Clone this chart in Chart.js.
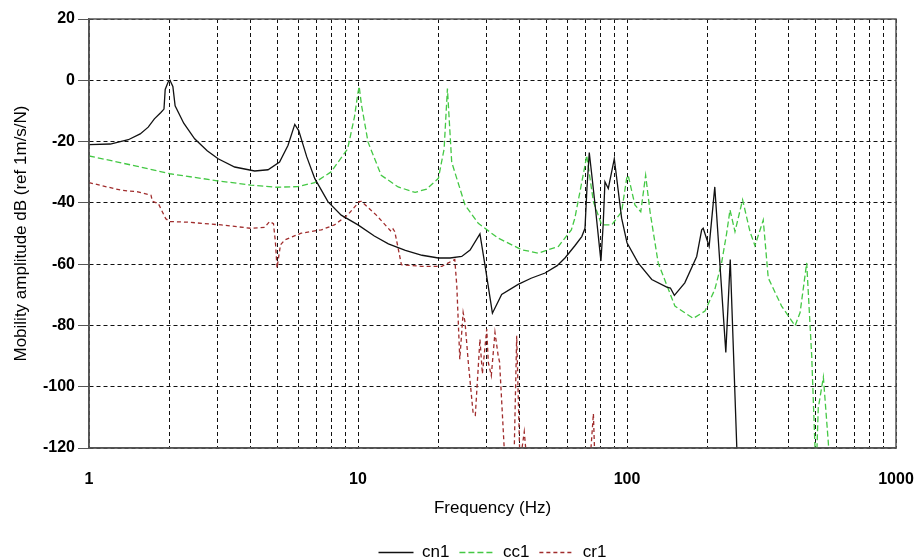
<!DOCTYPE html>
<html>
<head>
<meta charset="utf-8">
<title>Mobility amplitude</title>
<script src="https://cdn.jsdelivr.net/npm/chart.js@4.4.1/dist/chart.umd.min.js"></script>
<style>
  html, body { margin: 0; padding: 0; background: #fff; }
  #wrap { width: 917px; height: 559px; }
</style>
</head>
<body>
<div id="wrap"><canvas id="fig"></canvas></div>
<script>
// cn1 - solid black
const cn1Freq = [1.00, 1.20, 1.40, 1.55, 1.66, 1.75, 1.85, 1.90, 1.92, 1.97, 2.00, 2.05, 2.09, 2.25, 2.47, 2.75,
  3.02, 3.48, 4.13, 4.63, 5.11, 5.49, 5.82, 6.02, 6.45, 6.91, 7.73, 8.66, 10.0, 11.5, 12.97, 15.0, 17.3, 19.9,
  22.0, 24.3, 26.1, 28.4, 29.7, 31.6, 34.2, 39.4, 44.0, 49.6, 55.0, 58.8, 64.0, 67.9, 69.8, 71.0, 72.4, 74.0,
  76.1, 80.0, 81.6, 82.8, 85.2, 89.7, 95.5, 100, 110, 123.6, 140.5, 145, 150, 164, 181.6, 189.5, 192, 202, 212,
  233, 242, 256, 258];
const cn1Db = [-21, -20.8, -19.4, -17.5, -15.3, -12.6, -10.5, -9.4, -3, -0.5, 0, -2, -8.3, -14, -19.1, -23,
  -25.6, -28.3, -29.6, -29.2, -26.7, -21.3, -14.4, -16.4, -25, -32.1, -39.6, -44, -47.2, -50.8, -53.4, -55.5, -57.1, -58,
  -58, -57.5, -55.4, -50.1, -60.7, -76, -69.9, -66.6, -64.6, -62.9, -60.5, -58, -54, -51, -48.3, -35, -23.6, -31,
  -40.7, -59, -46.7, -33.1, -35.3, -25.6, -45, -53, -59.6, -65, -67.5, -67.8, -70.2, -66.1, -57.5, -48.8, -48.3, -54.2, -34.8,
  -88.8, -58.5, -120, -130];

// cc1 - dashed green
const cc1Freq = [1.0, 1.5, 2.0, 3.0, 4.0, 5.0, 5.97, 6.9, 7.94, 9.15, 9.7, 10.0, 10.1, 10.3, 10.9, 12.2, 14.1,
  16.3, 18.0, 19.9, 20.9, 21.5, 22.3, 25, 28, 33.2, 40.6, 46.8, 55.6, 62.1, 64, 69.8, 70.8, 75, 80.5, 87.7,
  95.5, 99.7, 101, 107, 112.5, 117.3, 121.8, 130.6, 150.7, 176.3, 195, 212, 224.7, 234.6, 241.5, 252, 269,
  286.6, 299, 321, 335, 375.6, 421.5, 440, 465.6, 486, 500, 505, 514, 537, 560, 570];
const cc1Db = [-24.7, -28, -30.5, -32.8, -34.2, -34.9, -34.7, -33.4, -29.9, -22.4, -12, -4, -2, -8, -20.2, -31, -34.8,
  -36.6, -35.5, -32, -22.4, -2.7, -26.7, -40.7, -46.7, -51.5, -55.3, -56.4, -54.2, -48.8, -45, -27.8, -24.5, -39.6, -47.2, -47.2,
  -42.9, -32, -31, -40.7, -42.9, -31, -42.9, -59.6, -73.7, -77.7, -75.3, -68.3, -59.6, -50, -42.3, -49.4, -39,
  -49.4, -54, -45.6, -64.5, -73.7, -80.1, -75.8, -59.6, -89.9, -120, -128, -107, -96.9, -118, -128];

// cr1 - dashed dark red
const cr1Freq = [1.0, 1.32, 1.52, 1.70, 1.72, 1.81, 1.90, 1.93, 2.0, 2.33, 3.10, 4.0, 4.5, 4.69, 4.85, 4.93, 5.0,
  5.15, 5.34, 6.15, 7.31, 8.17, 9.15, 10.1, 10.3, 11.7, 13.3, 13.5, 13.7, 14.1, 14.5, 17.2, 20.5, 22.9, 23.3,
  23.9, 24.6, 25.0, 25.7, 26.8, 27.3, 28.4, 29.0, 30.1, 30.5, 31.3, 32.3, 33.2, 33.6, 35.2, 38.0, 38.9, 40.0,
  41.5, 42.5, 60, 72.8, 75, 76, 80];
const cr1Db = [-33.4, -35.9, -36.4, -37.5, -39.5, -40.2, -44, -45.2, -46.1, -46.3, -47.2, -48.3, -48, -46.1, -46.8, -52.6, -61.2,
  -53.7, -52.1, -49.9, -48.8, -47.2, -44, -39.6, -39.5, -44, -49.4, -48.5, -49.4, -54.8, -60.2, -60.7, -60.7, -58.5, -67.2,
  -91, -75.8, -79, -92, -108.8, -109.3, -84.5, -95.8, -81.2, -92, -96.4, -82.3, -89.9, -92, -125, -125, -83.4, -125,
  -114.7, -125, -140, -125, -108.8, -125, -135];

const xDecades = [1, 10, 100, 1000];
const xSteps = [1, 2, 3, 4, 5, 6, 7, 8, 9];

const FONT = 'Arial, "Liberation Sans", sans-serif';
Chart.defaults.font.family = FONT;
Chart.defaults.color = '#000';

function pts(xs, ys) {
  return xs.map((x, i) => ({ x: x, y: ys[i] }));
}

// full-box frame + legend placed under the plot area
const framePlugin = {
  id: 'frame',
  afterLayout(chart) {
    const lg = chart.legend, ca = chart.chartArea;
    lg.left = ca.left;
    lg.right = ca.right;
    lg.top += 12;
    lg.bottom += 12;
  },
  afterDraw(chart) {
    const { ctx, chartArea: a } = chart;
    ctx.save();
    ctx.strokeStyle = '#555';
    ctx.lineWidth = 1.5;
    ctx.strokeRect(a.left, a.top, a.right - a.left, a.bottom - a.top);
    ctx.restore();
  }
};

const gridTicks = [];
xDecades.slice(0, 3).forEach(d => xSteps.forEach(m => gridTicks.push(d * m)));
gridTicks.push(1000);

new Chart(document.getElementById('fig'), {
  type: 'line',
  data: {
    datasets: [
      { label: 'cn1', data: pts(cn1Freq, cn1Db), borderColor: '#111', borderWidth: 1.3 },
      { label: 'cc1', data: pts(cc1Freq, cc1Db), borderColor: '#44c844', borderWidth: 1.3, borderDash: [6, 3] },
      { label: 'cr1', data: pts(cr1Freq, cr1Db), borderColor: '#a02c2c', borderWidth: 1.3, borderDash: [4, 3] }
    ]
  },
  options: {
    responsive: true,
    maintainAspectRatio: false,
    animation: false,
    elements: { point: { radius: 0 }, line: { tension: 0 } },
    layout: { padding: { left: 0, top: 19, right: 21, bottom: 0 } },
    scales: {
      x: {
        type: 'logarithmic',
        min: 1,
        max: 1000,
        afterBuildTicks: s => { s.ticks = gridTicks.map(v => ({ value: v })); },
        afterFit: s => { s.height = 74; s.paddingLeft = 0; s.paddingRight = 0; },
        grid: { color: '#111', lineWidth: 1, drawTicks: false },
        border: { color: '#555', width: 1.5, dash: [4, 3] },
        ticks: {
          autoSkip: false, maxRotation: 0, padding: 22,
          font: { size: 16, weight: 'bold' },
          callback: v => xDecades.includes(v) ? String(v) : ''
        },
        title: { display: true, text: 'Frequency (Hz)', font: { size: 17 }, padding: { top: 0, bottom: 3 } }
      },
      y: {
        min: -120,
        max: 20,
        afterFit: s => { s.width = 89; },
        grid: { color: '#111', lineWidth: 1, tickLength: 11, tickColor: '#555', tickBorderDash: [] },
        border: { color: '#555', width: 1.5, dash: [4, 3] },
        ticks: { stepSize: 20, padding: 3, font: { size: 16, weight: 'bold' } },
        title: { display: true, text: 'Mobility amplitude dB (ref 1m/s/N)', font: { size: 17 }, padding: { top: 11, bottom: 0 } }
      }
    },
    plugins: {
      legend: {
        position: 'bottom',
        labels: {
          usePointStyle: true, pointStyle: 'line', pointStyleWidth: 35,
          padding: 10, color: '#000', font: { size: 17 },
          generateLabels: chart => Chart.defaults.plugins.legend.labels.generateLabels(chart)
            .map((it, i) => Object.assign(it, { lineDash: chart.data.datasets[i].borderDash || [] }))
        }
      },
      tooltip: { enabled: false }
    }
  },
  plugins: [framePlugin]
});
</script>
</body>
</html>
